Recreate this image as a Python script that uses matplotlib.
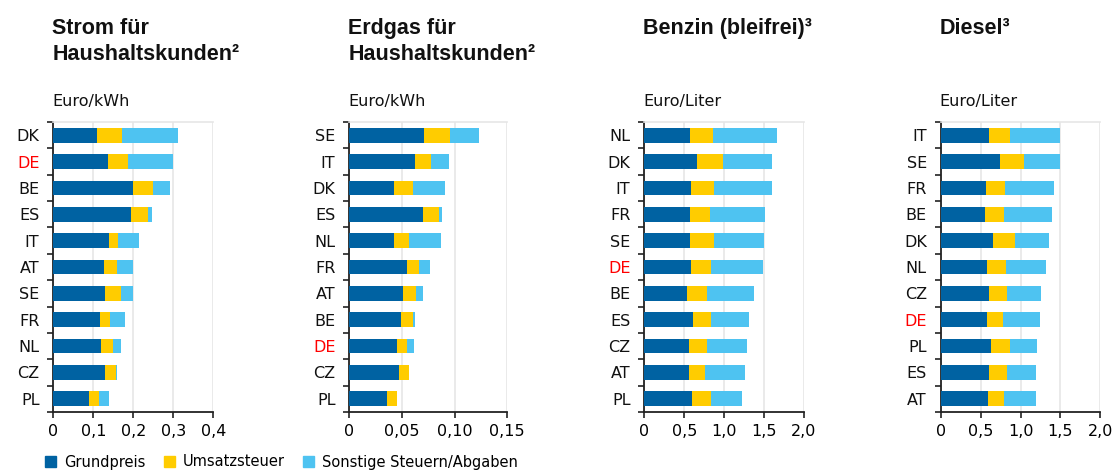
import matplotlib
matplotlib.use("Agg")
import matplotlib.pyplot as plt
import numpy as np
from matplotlib.patches import Patch

# ---------------- data ----------------
strom_countries = ["DK", "DE", "BE", "ES", "IT", "AT", "SE", "FR", "NL", "CZ", "PL"]
strom_grund = [0.110, 0.137, 0.199, 0.194, 0.140, 0.126, 0.128, 0.116, 0.120, 0.129, 0.088]
strom_ust = [0.063, 0.049, 0.050, 0.042, 0.021, 0.033, 0.040, 0.026, 0.029, 0.028, 0.026]
strom_sonst = [0.138, 0.113, 0.044, 0.011, 0.054, 0.041, 0.030, 0.037, 0.021, 0.001, 0.025]

gas_countries = ["SE", "IT", "DK", "ES", "NL", "FR", "AT", "BE", "DE", "CZ", "PL"]
gas_grund = [0.071, 0.062, 0.042, 0.070, 0.042, 0.055, 0.051, 0.049, 0.045, 0.047, 0.036]
gas_ust = [0.025, 0.016, 0.018, 0.0155, 0.015, 0.011, 0.012, 0.011, 0.010, 0.010, 0.009]
gas_sonst = [0.027, 0.017, 0.031, 0.0026, 0.030, 0.0105, 0.007, 0.002, 0.006, 0.0, 0.0]

benzin_countries = ["NL", "DK", "IT", "FR", "SE", "DE", "BE", "ES", "CZ", "AT", "PL"]
benzin_grund = [0.57, 0.66, 0.58, 0.57, 0.57, 0.59, 0.54, 0.605, 0.56, 0.56, 0.60]
benzin_ust = [0.29, 0.325, 0.29, 0.25, 0.30, 0.24, 0.24, 0.23, 0.225, 0.205, 0.235]
benzin_sonst = [0.80, 0.62, 0.73, 0.69, 0.63, 0.655, 0.60, 0.47, 0.50, 0.50, 0.39]

diesel_countries = ["IT", "SE", "FR", "BE", "DK", "NL", "CZ", "DE", "PL", "ES", "AT"]
diesel_grund = [0.60, 0.74, 0.57, 0.55, 0.655, 0.58, 0.605, 0.58, 0.635, 0.61, 0.59]
diesel_ust = [0.27, 0.30, 0.24, 0.24, 0.275, 0.235, 0.22, 0.20, 0.23, 0.215, 0.20]
diesel_sonst = [0.62, 0.45, 0.61, 0.61, 0.43, 0.50, 0.43, 0.47, 0.34, 0.375, 0.41]

titles = [["Strom für", "Haushaltskunden²"],
          ["Erdgas für", "Haushaltskunden²"],
          ["Benzin (bleifrei)³"],
          ["Diesel³"]]
units = ["Euro/kWh", "Euro/kWh", "Euro/Liter", "Euro/Liter"]
xticks_list = [[0, 0.1, 0.2, 0.3, 0.4],
               [0, 0.05, 0.10, 0.15],
               [0, 0.5, 1.0, 1.5, 2.0],
               [0, 0.5, 1.0, 1.5, 2.0]]
xticklabels_list = [["0", "0,1", "0,2", "0,3", "0,4"],
                    ["0", "0,05", "0,10", "0,15"],
                    ["0", "0,5", "1,0", "1,5", "2,0"],
                    ["0", "0,5", "1,0", "1,5", "2,0"]]
legend_labels = ["Grundpreis", "Umsatzsteuer", "Sonstige Steuern/Abgaben"]

panels = [
    (strom_countries, strom_grund, strom_ust, strom_sonst),
    (gas_countries, gas_grund, gas_ust, gas_sonst),
    (benzin_countries, benzin_grund, benzin_ust, benzin_sonst),
    (diesel_countries, diesel_grund, diesel_ust, diesel_sonst),
]

# ---------------- style ----------------
C_BLUE = "#0062A2"
C_YEL = "#FFCC00"
C_LBLUE = "#4EC3F1"
C_GRID = "#E6E6E6"
W, H = 1115, 471
REG = "DejaVu Sans"
BOLD = "Liberation Sans"

fig = plt.figure(figsize=(W / 100, H / 100), dpi=100)
fig.patch.set_facecolor("white")

ax_left = [53.3, 349.3, 644.3, 940.7]
ax_right = [213.3, 507.3, 804.0, 1100.3]
ax_top, ax_bot = 122.0, 412.0

for i, (cats, g, u, s) in enumerate(panels):
    l, r = ax_left[i], ax_right[i]
    ax = fig.add_axes([l / W, (H - ax_bot) / H, (r - l) / W, (ax_bot - ax_top) / H])
    y = np.arange(len(cats))
    g = np.array(g); u = np.array(u); s = np.array(s)
    ax.barh(y, g, height=0.56, color=C_BLUE, linewidth=0, zorder=3)
    ax.barh(y, u, left=g, height=0.56, color=C_YEL, linewidth=0, zorder=3)
    ax.barh(y, s, left=g + u, height=0.56, color=C_LBLUE, linewidth=0, zorder=3)

    xt = xticks_list[i]
    ax.set_xlim(xt[0], xt[-1])
    ax.set_ylim(len(cats) - 0.5, -0.5)
    ax.set_xticks(xt)
    ax.set_xticklabels(xticklabels_list[i], fontsize=11.5, family=REG)
    ax.grid(axis="x", color=C_GRID, linewidth=1.2, zorder=0)
    ax.set_axisbelow(True)

    # category boundaries as major ticks, labels at centres as minor ticks
    ax.set_yticks(np.arange(len(cats) + 1) - 0.5)
    ax.set_yticklabels([])
    ax.set_yticks(y, minor=True)
    ax.set_yticklabels(cats, minor=True, fontsize=11.5, family=REG)
    ax.tick_params(axis="y", which="major", length=4, width=1.2, color="#222222")
    ax.tick_params(axis="y", which="minor", length=0, pad=10)
    ax.tick_params(axis="x", length=4, width=1.2, color="#222222", pad=5)
    for lab in ax.get_yticklabels(minor=True):
        if lab.get_text() == "DE":
            lab.set_color("#FF0000")
        else:
            lab.set_color("#111111")

    for side in ["left", "bottom"]:
        ax.spines[side].set_color("#222222")
        ax.spines[side].set_linewidth(1.3)
    ax.spines["top"].set_color(C_GRID)
    ax.spines["top"].set_linewidth(1.2)
    ax.spines["right"].set_visible(False)

    # titles and units
    tx = ax_left[i] - 1
    for k, line in enumerate(titles[i]):
        fig.text(tx / W, (H - (34.3 + 26 * k)) / H, line, fontsize=15.5,
                 fontweight="bold", family=BOLD, va="baseline", ha="left", color="#111111")
    fig.text(tx / W, (H - 106) / H, units[i], fontsize=11.5, family=REG,
             va="baseline", ha="left", color="#111111")

handles = [Patch(color=C_BLUE), Patch(color=C_YEL), Patch(color=C_LBLUE)]
fig.legend(handles, legend_labels, loc="center left",
           bbox_to_anchor=(45 / W, (H - 462) / H), ncol=3, frameon=False,
           prop={"family": REG, "size": 10.5}, handlelength=0.75, handleheight=0.75,
           handletextpad=0.55, columnspacing=1.25, borderpad=0, borderaxespad=0)

fig.savefig("out.png", dpi=100)
